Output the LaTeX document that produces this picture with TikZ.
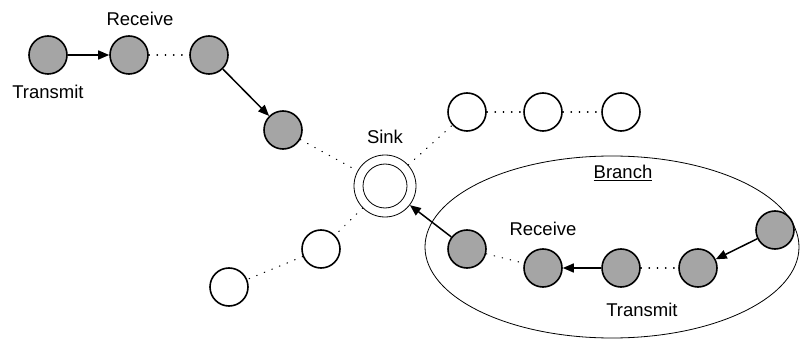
\documentclass[tikz,border=0pt]{standalone}
\usepackage{fontspec}
\setmainfont{Liberation Sans}
\usetikzlibrary{arrows.meta,shapes.geometric}
\begin{document}
\begin{tikzpicture}[x=1pt,y=-1pt,
  every node/.style={font=\fontsize{18.5}{20}\selectfont},
  gnode/.style={circle,draw,line width=1.6pt,fill={rgb,255:red,165;green,165;blue,165},minimum size=38pt,inner sep=0pt},
  wnode/.style={circle,draw,line width=1.6pt,fill=white,minimum size=38pt,inner sep=0pt},
  dotline/.style={line width=1.1pt,dash pattern=on 0.6pt off 7.6pt,line cap=round},
  arr/.style={line width=1.5pt,-{Triangle[length=11pt,width=9pt]}},
  lbl/.style={inner sep=0pt}]
\useasboundingbox (0,0) rectangle (800,339);
% branch ellipse
\node[draw,line width=0.8pt,ellipse,minimum width=374pt,minimum height=182pt,inner sep=0pt] (br) at (612,247) {};
% top-left chain
\node[gnode] (n1) at (48,55) {};
\node[gnode] (n2) at (129,55) {};
\node[gnode] (n3) at (209,55) {};
\node[gnode] (n4) at (283,130) {};
\node[lbl] (rec1) at (140,19) {Receive};
\node[lbl] (tr1) at (48,92) {Transmit};
% sink
\node[circle,draw,line width=0.8pt,minimum size=62pt,inner sep=0pt] (sink) at (385,186) {};
\node[circle,draw,line width=0.8pt,minimum size=44pt,inner sep=0pt] (sinkin) at (385,186) {};
\node[lbl] (sinkl) at (385,137) {Sink};
% top-right
\node[wnode] (t1) at (467,112) {};
\node[wnode] (t2) at (543,112) {};
\node[wnode] (t3) at (621,112) {};
% lower-left
\node[wnode] (l1) at (321,249) {};
\node[wnode] (l2) at (229,287) {};
% branch nodes
\node[gnode] (b1) at (467,249) {};
\node[gnode] (b2) at (543,268) {};
\node[gnode] (b3) at (621,268) {};
\node[gnode] (b4) at (698,268) {};
\node[gnode] (b5) at (775,230) {};
\node[lbl] (brl) at (623,173) {\underline{Branch}};
\node[lbl] (rec2) at (543,229) {Receive};
\node[lbl] (tr2) at (642,310) {Transmit};
% connectors
\draw[arr] (n1) -- (n2);
\draw[dotline] (n2) -- (n3);
\draw[arr] (n3) -- (n4);
\draw[dotline] (n4) -- (sink);
\draw[dotline] (sink) -- (t1);
\draw[dotline] (t1) -- (t2);
\draw[dotline] (t2) -- (t3);
\draw[dotline] (sink) -- (l1);
\draw[dotline] (l1) -- (l2);
\draw[arr] (b1) -- (sink);
\draw[dotline] (b1) -- (b2);
\draw[arr] (b3) -- (b2);
\draw[dotline] (b3) -- (b4);
\draw[arr] (b5) -- (b4);
\end{tikzpicture}
\end{document}
